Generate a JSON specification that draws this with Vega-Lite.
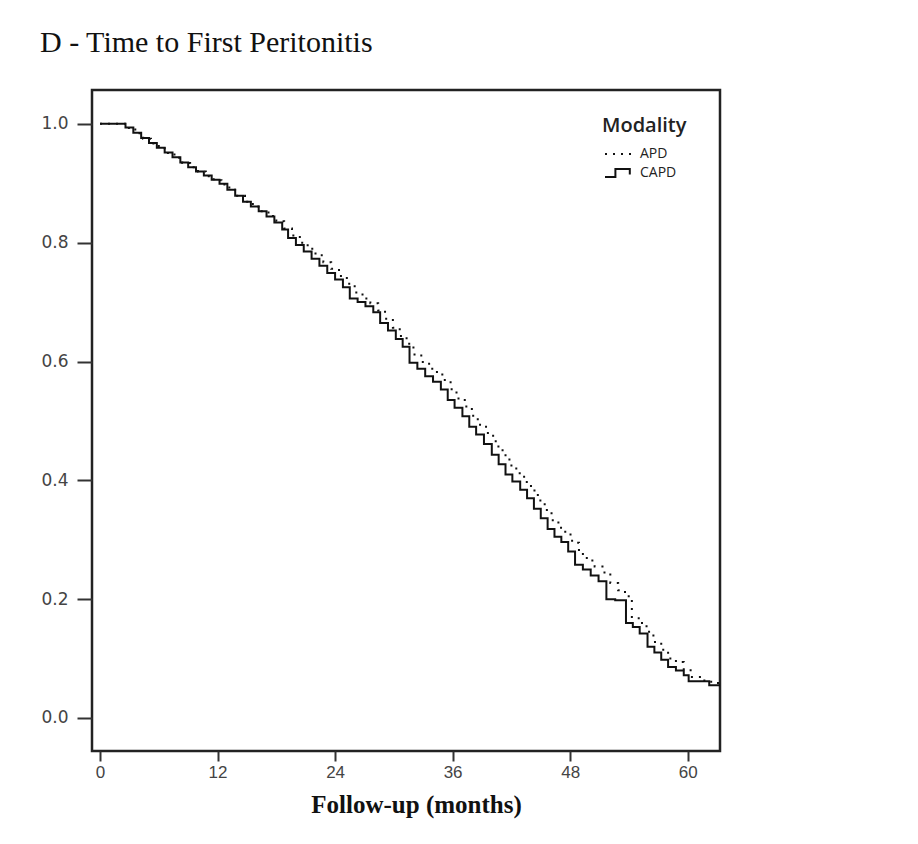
{
  "$schema": "https://vega.github.io/schema/vega-lite/v6.json",
  "width": 628,
  "height": 661,
  "autosize": {"type": "none"},
  "padding": {"left": 92, "top": 90, "right": 198, "bottom": 93},
  "background": "white",
  "config": {
    "view": {"stroke": "#222", "strokeWidth": 2.5},
    "axis": {"grid": false, "domain": false, "tickColor": "#333", "tickWidth": 2}
  },
  "title": {
    "text": "D - Time to First Peritonitis",
    "anchor": "start",
    "frame": "group",
    "font": "Liberation Serif",
    "fontSize": 30,
    "fontWeight": "normal",
    "color": "#111",
    "dx": -52,
    "offset": 32
  },
  "datasets": {
    "km": [
      {"Modality": "CAPD", "t": 0, "s": 1.0},
      {"Modality": "CAPD", "t": 2.6, "s": 0.994},
      {"Modality": "CAPD", "t": 3.4, "s": 0.985},
      {"Modality": "CAPD", "t": 4.2, "s": 0.976},
      {"Modality": "CAPD", "t": 5.0, "s": 0.968},
      {"Modality": "CAPD", "t": 5.8, "s": 0.96},
      {"Modality": "CAPD", "t": 6.6, "s": 0.952},
      {"Modality": "CAPD", "t": 7.4, "s": 0.944},
      {"Modality": "CAPD", "t": 8.2, "s": 0.935},
      {"Modality": "CAPD", "t": 9.0, "s": 0.927},
      {"Modality": "CAPD", "t": 9.8, "s": 0.92},
      {"Modality": "CAPD", "t": 10.6, "s": 0.913},
      {"Modality": "CAPD", "t": 11.4, "s": 0.906},
      {"Modality": "CAPD", "t": 12.2, "s": 0.899},
      {"Modality": "CAPD", "t": 13.0, "s": 0.889},
      {"Modality": "CAPD", "t": 13.8, "s": 0.879},
      {"Modality": "CAPD", "t": 14.6, "s": 0.869},
      {"Modality": "CAPD", "t": 15.4, "s": 0.861},
      {"Modality": "CAPD", "t": 16.2, "s": 0.853},
      {"Modality": "CAPD", "t": 17.0, "s": 0.844},
      {"Modality": "CAPD", "t": 17.8, "s": 0.834},
      {"Modality": "CAPD", "t": 18.6, "s": 0.822},
      {"Modality": "CAPD", "t": 19.2, "s": 0.808},
      {"Modality": "CAPD", "t": 20.0, "s": 0.796},
      {"Modality": "CAPD", "t": 20.8, "s": 0.785},
      {"Modality": "CAPD", "t": 21.6, "s": 0.773},
      {"Modality": "CAPD", "t": 22.4, "s": 0.761},
      {"Modality": "CAPD", "t": 23.2, "s": 0.749},
      {"Modality": "CAPD", "t": 24.0, "s": 0.738},
      {"Modality": "CAPD", "t": 24.8, "s": 0.725},
      {"Modality": "CAPD", "t": 25.5, "s": 0.706},
      {"Modality": "CAPD", "t": 26.3, "s": 0.7},
      {"Modality": "CAPD", "t": 27.1, "s": 0.693},
      {"Modality": "CAPD", "t": 27.9, "s": 0.683},
      {"Modality": "CAPD", "t": 28.6, "s": 0.665},
      {"Modality": "CAPD", "t": 29.4, "s": 0.652},
      {"Modality": "CAPD", "t": 30.2, "s": 0.638},
      {"Modality": "CAPD", "t": 30.9, "s": 0.625},
      {"Modality": "CAPD", "t": 31.6, "s": 0.598},
      {"Modality": "CAPD", "t": 32.4, "s": 0.588},
      {"Modality": "CAPD", "t": 33.2, "s": 0.575},
      {"Modality": "CAPD", "t": 34.0, "s": 0.566},
      {"Modality": "CAPD", "t": 34.8, "s": 0.553},
      {"Modality": "CAPD", "t": 35.5, "s": 0.535},
      {"Modality": "CAPD", "t": 36.2, "s": 0.522},
      {"Modality": "CAPD", "t": 37.0, "s": 0.508},
      {"Modality": "CAPD", "t": 37.7, "s": 0.49},
      {"Modality": "CAPD", "t": 38.4, "s": 0.477},
      {"Modality": "CAPD", "t": 39.2, "s": 0.461},
      {"Modality": "CAPD", "t": 40.0, "s": 0.443},
      {"Modality": "CAPD", "t": 40.7, "s": 0.427},
      {"Modality": "CAPD", "t": 41.4, "s": 0.41},
      {"Modality": "CAPD", "t": 42.1, "s": 0.398},
      {"Modality": "CAPD", "t": 42.9, "s": 0.384},
      {"Modality": "CAPD", "t": 43.6, "s": 0.37},
      {"Modality": "CAPD", "t": 44.3, "s": 0.352},
      {"Modality": "CAPD", "t": 45.0, "s": 0.336},
      {"Modality": "CAPD", "t": 45.7, "s": 0.318},
      {"Modality": "CAPD", "t": 46.4, "s": 0.305},
      {"Modality": "CAPD", "t": 47.1, "s": 0.296},
      {"Modality": "CAPD", "t": 47.8, "s": 0.28},
      {"Modality": "CAPD", "t": 48.5, "s": 0.258},
      {"Modality": "CAPD", "t": 49.3, "s": 0.25},
      {"Modality": "CAPD", "t": 50.1, "s": 0.24},
      {"Modality": "CAPD", "t": 50.9, "s": 0.23},
      {"Modality": "CAPD", "t": 51.7, "s": 0.2},
      {"Modality": "CAPD", "t": 52.6, "s": 0.198},
      {"Modality": "CAPD", "t": 53.7, "s": 0.16},
      {"Modality": "CAPD", "t": 54.4, "s": 0.153},
      {"Modality": "CAPD", "t": 55.1, "s": 0.142},
      {"Modality": "CAPD", "t": 55.9, "s": 0.12},
      {"Modality": "CAPD", "t": 56.6, "s": 0.11},
      {"Modality": "CAPD", "t": 57.3, "s": 0.098},
      {"Modality": "CAPD", "t": 58.0, "s": 0.086},
      {"Modality": "CAPD", "t": 58.8, "s": 0.08},
      {"Modality": "CAPD", "t": 59.6, "s": 0.072},
      {"Modality": "CAPD", "t": 60.1, "s": 0.062},
      {"Modality": "CAPD", "t": 62.2, "s": 0.055},
      {"Modality": "CAPD", "t": 63.3, "s": 0.055},
      {"Modality": "APD", "t": 0, "s": 1.0},
      {"Modality": "APD", "t": 2.8, "s": 0.993},
      {"Modality": "APD", "t": 3.6, "s": 0.984},
      {"Modality": "APD", "t": 4.4, "s": 0.975},
      {"Modality": "APD", "t": 5.2, "s": 0.967},
      {"Modality": "APD", "t": 6.0, "s": 0.959},
      {"Modality": "APD", "t": 6.8, "s": 0.951},
      {"Modality": "APD", "t": 7.6, "s": 0.943},
      {"Modality": "APD", "t": 8.4, "s": 0.934},
      {"Modality": "APD", "t": 9.2, "s": 0.927},
      {"Modality": "APD", "t": 10.0, "s": 0.92},
      {"Modality": "APD", "t": 10.8, "s": 0.912},
      {"Modality": "APD", "t": 11.6, "s": 0.905},
      {"Modality": "APD", "t": 12.4, "s": 0.898},
      {"Modality": "APD", "t": 13.2, "s": 0.889},
      {"Modality": "APD", "t": 14.0, "s": 0.879},
      {"Modality": "APD", "t": 14.8, "s": 0.869},
      {"Modality": "APD", "t": 15.6, "s": 0.861},
      {"Modality": "APD", "t": 16.4, "s": 0.853},
      {"Modality": "APD", "t": 17.2, "s": 0.845},
      {"Modality": "APD", "t": 18.0, "s": 0.836},
      {"Modality": "APD", "t": 18.8, "s": 0.824},
      {"Modality": "APD", "t": 19.6, "s": 0.812},
      {"Modality": "APD", "t": 20.4, "s": 0.8},
      {"Modality": "APD", "t": 21.2, "s": 0.79},
      {"Modality": "APD", "t": 22.0, "s": 0.779},
      {"Modality": "APD", "t": 22.8, "s": 0.767},
      {"Modality": "APD", "t": 23.6, "s": 0.756},
      {"Modality": "APD", "t": 24.4, "s": 0.744},
      {"Modality": "APD", "t": 25.2, "s": 0.731},
      {"Modality": "APD", "t": 26.0, "s": 0.716},
      {"Modality": "APD", "t": 26.8, "s": 0.706},
      {"Modality": "APD", "t": 27.6, "s": 0.698},
      {"Modality": "APD", "t": 28.4, "s": 0.686},
      {"Modality": "APD", "t": 29.1, "s": 0.672},
      {"Modality": "APD", "t": 29.9, "s": 0.657},
      {"Modality": "APD", "t": 30.6, "s": 0.643},
      {"Modality": "APD", "t": 31.3, "s": 0.63},
      {"Modality": "APD", "t": 32.0, "s": 0.612},
      {"Modality": "APD", "t": 32.8, "s": 0.599},
      {"Modality": "APD", "t": 33.6, "s": 0.588},
      {"Modality": "APD", "t": 34.4, "s": 0.578},
      {"Modality": "APD", "t": 35.2, "s": 0.565},
      {"Modality": "APD", "t": 35.9, "s": 0.548},
      {"Modality": "APD", "t": 36.6, "s": 0.535},
      {"Modality": "APD", "t": 37.4, "s": 0.52},
      {"Modality": "APD", "t": 38.1, "s": 0.503},
      {"Modality": "APD", "t": 38.8, "s": 0.49},
      {"Modality": "APD", "t": 39.6, "s": 0.475},
      {"Modality": "APD", "t": 40.4, "s": 0.457},
      {"Modality": "APD", "t": 41.1, "s": 0.442},
      {"Modality": "APD", "t": 41.8, "s": 0.425},
      {"Modality": "APD", "t": 42.5, "s": 0.412},
      {"Modality": "APD", "t": 43.3, "s": 0.397},
      {"Modality": "APD", "t": 44.0, "s": 0.383},
      {"Modality": "APD", "t": 44.7, "s": 0.366},
      {"Modality": "APD", "t": 45.4, "s": 0.35},
      {"Modality": "APD", "t": 46.1, "s": 0.333},
      {"Modality": "APD", "t": 46.8, "s": 0.32},
      {"Modality": "APD", "t": 47.5, "s": 0.309},
      {"Modality": "APD", "t": 48.2, "s": 0.295},
      {"Modality": "APD", "t": 48.9, "s": 0.276},
      {"Modality": "APD", "t": 49.7, "s": 0.265},
      {"Modality": "APD", "t": 50.5, "s": 0.255},
      {"Modality": "APD", "t": 51.3, "s": 0.245},
      {"Modality": "APD", "t": 52.1, "s": 0.227},
      {"Modality": "APD", "t": 52.9, "s": 0.215},
      {"Modality": "APD", "t": 53.6, "s": 0.205},
      {"Modality": "APD", "t": 54.3, "s": 0.168},
      {"Modality": "APD", "t": 55.0, "s": 0.16},
      {"Modality": "APD", "t": 55.8, "s": 0.145},
      {"Modality": "APD", "t": 56.5, "s": 0.128},
      {"Modality": "APD", "t": 57.3, "s": 0.115},
      {"Modality": "APD", "t": 58.0, "s": 0.1},
      {"Modality": "APD", "t": 58.8, "s": 0.094},
      {"Modality": "APD", "t": 59.6, "s": 0.082},
      {"Modality": "APD", "t": 60.3, "s": 0.069},
      {"Modality": "APD", "t": 61.5, "s": 0.063},
      {"Modality": "APD", "t": 62.4, "s": 0.059},
      {"Modality": "APD", "t": 63.3, "s": 0.059}
    ]
  },
  "data": {"name": "km"},
  "mark": {"type": "line", "interpolate": "step-after", "strokeWidth": 2, "color": "#111", "clip": true},
  "encoding": {
    "x": {
      "field": "t",
      "type": "quantitative",
      "scale": {"domain": [-0.82, 63.3], "nice": false, "zero": false},
      "axis": {
        "values": [0, 12, 24, 36, 48, 60],
        "title": "Follow-up (months)",
        "titleFont": "Liberation Serif",
        "titleFontSize": 25,
        "titleFontWeight": "bold",
        "titleColor": "#111",
        "titlePadding": 12,
        "titleX": 324,
        "labelFont": "Liberation Sans",
        "labelFontSize": 17,
        "labelColor": "#444",
        "labelPadding": 3,
        "tickSize": 10
      }
    },
    "y": {
      "field": "s",
      "type": "quantitative",
      "scale": {"domain": [-0.0556, 1.057], "nice": false, "zero": false},
      "axis": {
        "values": [0, 0.2, 0.4, 0.6, 0.8, 1.0],
        "format": ".1f",
        "title": null,
        "labelFont": "DejaVu Sans",
        "labelFontSize": 17,
        "labelColor": "#444",
        "labelPadding": 9,
        "tickSize": 15
      }
    },
    "strokeDash": {
      "field": "Modality",
      "type": "nominal",
      "scale": {"domain": ["APD", "CAPD"], "range": [[2, 6], [1, 0]]},
      "legend": {
        "orient": "none",
        "legendX": 510,
        "legendY": 26,
        "title": "Modality",
        "titleFont": "Open Sans",
        "titleFontSize": 20,
        "titleFontWeight": 600,
        "titleColor": "#222",
        "titlePadding": 9,
        "labelFont": "Open Sans",
        "labelFontSize": 14,
        "labelColor": "#222",
        "labelOffset": 10,
        "symbolOffset": 10,
        "symbolSize": 256,
        "symbolStrokeWidth": 2,
        "symbolStrokeColor": "#111",
        "rowPadding": 3,
        "encode": {
          "symbols": {
            "update": {
              "shape": {"signal": "datum.value === 'CAPD' ? 'M-2,0.5H-0.7V-0.5H1.1V0.2' : 'M-2,0H2'"},
              "fill": {"value": "transparent"}
            }
          }
        }
      }
    }
  }
}
